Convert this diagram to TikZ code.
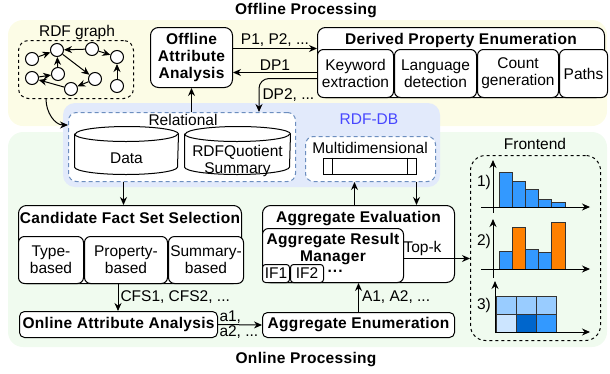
\documentclass[tikz,border=0pt]{standalone}
\usepackage{fontspec}
\setmainfont{Liberation Sans}[BoldFeatures={LetterSpace=2}]
\usetikzlibrary{arrows.meta, positioning}

\definecolor{offlinebg}{HTML}{FCFCE6}
\definecolor{onlinebg}{HTML}{F0FBEF}
\definecolor{dbbg}{HTML}{E2EAFB}
\definecolor{dbline}{HTML}{6C8EBF}
\definecolor{dbtext}{HTML}{4747FF}
\definecolor{barblue}{HTML}{3399FF}
\definecolor{barorange}{HTML}{FF8000}
\definecolor{celllight}{HTML}{99CCFF}
\definecolor{cellpale}{HTML}{CCE5FF}
\definecolor{celldark}{HTML}{0066CC}

\tikzset{
  box/.style={draw, fill=white, rounded corners=8pt, inner sep=0pt, align=center},
  subbox/.style={draw, fill=white, rounded corners=6pt, inner sep=0pt, align=center},
  title/.style={font=\bfseries, inner sep=0pt},
  dashbox/.style={draw, dashed, rounded corners=10pt},
  dbbox/.style={draw=dbline, fill=white, dash pattern=on 4pt off 3pt, rounded corners=8pt},
  vert/.style={circle, draw, fill=white, minimum size=13pt, inner sep=0pt},
  store/.style={inner sep=0pt, minimum height=47pt},
  bar/.style={draw=black!80, line width=0.8pt},
}

% drum outline round a store node: #1 node name, #2 half width
\newcommand{\drum}[2]{%
  \draw[fill=white] ([yshift=-7.5pt]#1.north west) -- ([yshift=7.5pt]#1.south west)
    arc[start angle=180, end angle=360, x radius=#2, y radius=7.5pt]
    -- ([yshift=-7.5pt]#1.north east)
    arc[start angle=0, end angle=180, x radius=#2, y radius=7.5pt] -- cycle;
  \draw ([yshift=-7.5pt]#1.north west) arc[start angle=180, end angle=360, x radius=#2, y radius=7.5pt];
}

\begin{document}
\begin{tikzpicture}[x=1pt, y=-1pt, line width=1pt, >={Stealth[length=8pt,width=7pt]}]
   \fontsize{15.5}{17}\selectfont
   \useasboundingbox (0,0) rectangle (610,373);

   % backgrounds
   \fill[offlinebg, rounded corners=15pt] (8,20) rectangle (607,126);
   \fill[onlinebg, rounded corners=15pt] (8,132) rectangle (607,347);
   \fill[dbbg, rounded corners=12pt] (63,103) rectangle (440,187);

   \node[title] (offtitle) at (306,11) {Offline Processing};
   \node[title] (ontitle) at (306,360) {Online Processing};

   % RDF graph
   \node (graphlabel) at (77,32) {RDF graph};
   \node[dashbox, minimum width=115pt, minimum height=58pt, anchor=north west] (graph) at (18,40) {};
   \node[vert] (v1) at (32,59) {};
   \node[vert] (v2) at (57,50) {};
   \node[vert] (v3) at (92,49) {};
   \node[vert] (v4) at (117,57) {};
   \node[vert] (v5) at (32,78) {};
   \node[vert] (v6) at (58,74) {};
   \node[vert] (v7) at (95,79) {};
   \node[vert] (v8) at (71,89) {};
   \node[vert] (v9) at (117,86) {};
   \draw[->] (v1) -- (v2);
   \draw[->] (v3) -- (v2);
   \draw[->] (v3) -- (v4);
   \draw[->] (v2) -- (v7);
   \draw[->] (v6) -- (v2);
   \draw[->] (v5) -- (v6);
   \draw[->] (v8) -- (v5);
   \draw[->] (v7) -- (v8);
   \draw[->] (v9) -- (v4);

   % RDF-DB
   \node[text=dbtext] (dblabel) at (369,119) {RDF-DB};
   \node[dbbox, minimum width=227pt, minimum height=69pt, anchor=north west] (relational) at (68,112) {};
   \node (reltitle) at (183,120) {Relational};
   \node[store, minimum width=103pt] (data) at (126.5,150.5) {};
   \drum{data}{51.5pt}
   \node (datatext) at (126.5,158) {Data};
   \node[store, minimum width=105pt] (summary) at (237.5,150.5) {};
   \drum{summary}{52.5pt}
   \node[align=center, inner sep=0pt] (sumtext) at (237.5,161) {RDFQuotient\\Summary};
   \node[dbbox, minimum width=130pt, minimum height=45pt, anchor=north west] (multidim) at (305,136) {};
   \node (mdtitle) at (370,148) {Multidimensional};
   \node[draw, fill=white, minimum width=93pt, minimum height=16pt, inner sep=0pt] (cube) at (369.5,166) {};
   \draw ([xshift=10pt]cube.north west) -- ([xshift=10pt]cube.south west);
   \draw ([xshift=-9pt]cube.north east) -- ([xshift=-9pt]cube.south east);

   % offline part
   \node[box, minimum width=82pt, minimum height=60pt, anchor=north west, font=\bfseries] (offaa) at (150,27) {Offline\\Attribute\\Analysis};
   \node[box, minimum width=287pt, minimum height=70pt, anchor=north west] (dpe) at (317,27) {};
   \node[title, below=5.5pt of dpe.north] (dpetitle) {Derived Property Enumeration};
   \node[subbox, anchor=south west, minimum width=76pt, minimum height=48pt] (keyword) at (dpe.south west) {Keyword\\extraction};
   \node[subbox, right=0pt of keyword, minimum width=82pt, minimum height=48pt] (language) {Language\\detection};
   \node[subbox, right=0pt of language, minimum width=81pt, minimum height=48pt] (count) {Count\\generation};
   \node[subbox, right=0pt of count, minimum width=48pt, minimum height=48pt] (paths) {Paths};

   \draw[->] (graph.south west) ++(28pt,0) to[out=-90, in=180] ([yshift=-13pt]relational.north west);
   \draw[->] (offaa.south |- relational.north) -- (offaa.south);
   \draw[->] ([yshift=9pt]offaa.east) -- ([yshift=9pt]offaa.east -| dpe.west) node[midway, above, inner sep=2pt] {P1, P2, ...};
   \draw[->] ([yshift=-10pt]dpe.west) -- ([yshift=-10pt]dpe.west -| offaa.east) node[midway, above, inner sep=2pt] {DP1};
   \draw[->, rounded corners=10pt] ([yshift=-16pt]dpe.west) -| ([xshift=-37pt]relational.north east) node[pos=0.75, right, inner sep=3pt] {DP2, ...};

   % online part
   \node[box, minimum width=223pt, minimum height=78pt, anchor=north west] (cfs) at (18,205) {};
   \node[title, below=7pt of cfs.north] (cfstitle) {Candidate Fact Set Selection};
   \node[subbox, anchor=south west, minimum width=65pt, minimum height=47pt] (typeb) at (cfs.south west) {Type-\\based};
   \node[subbox, right=0pt of typeb, minimum width=83pt, minimum height=47pt] (propb) {Property-\\based};
   \node[subbox, right=0pt of propb, minimum width=75pt, minimum height=47pt] (sumb) {Summary-\\based};
   \node[box, rounded corners=5pt, minimum width=198pt, minimum height=26pt, anchor=north west, font=\bfseries] (onaa) at (19,311) {Online Attribute Analysis};

   \node[box, minimum width=192pt, minimum height=77pt, anchor=north west] (aggeval) at (262,205) {};
   \node[title, below=5.5pt of aggeval.north] (aggevaltitle) {Aggregate Evaluation};
   \node[subbox, anchor=south west, minimum width=141pt, minimum height=54pt] (arm) at (aggeval.south west) {};
   \node[title, align=center, below=4.5pt of arm.north] (armtitle) {Aggregate Result\\Manager};
   \node[subbox, rounded corners=3pt, anchor=south west, minimum width=27pt, minimum height=18pt] (if1) at (arm.south west) {IF1};
   \node[subbox, rounded corners=3pt, right=0pt of if1, minimum width=33pt, minimum height=18pt] (if2) {IF2};
   \node[right=3pt of if2, font=\bfseries, inner sep=0pt] (ifdots) {···};
   \node[box, rounded corners=5pt, minimum width=192pt, minimum height=25pt, anchor=north west, font=\bfseries] (aggenum) at (262,312) {Aggregate Enumeration};

   \draw[->] ([xshift=-3pt]data.south |- relational.south) -- ([xshift=-3pt]data.south |- cfs.north);
   \draw[->] ([xshift=-12pt]cfs.south) -- ([xshift=-12pt]cfs.south |- onaa.north) node[midway, right, inner sep=2pt] {CFS1, CFS2, ...};
   \draw[->] (onaa.east) -- (aggenum.west) node[pos=0, above right, inner sep=1pt] {a1,} node[pos=0, below right, inner sep=1pt] {a2, ...};
   \draw[->] (aggenum.north) -- (aggenum.north |- arm.south) node[midway, right, inner sep=3pt] {A1, A2, ...};
   \draw[->] ([xshift=-4pt]aggeval.north) -- ([xshift=-4pt]aggeval.north |- multidim.south);
   \draw[->] ([xshift=46pt]multidim.south) -- ([xshift=46pt]multidim.south |- aggeval.north);

   % frontend
   \node (frontlabel) at (535,144) {Frontend};
   \node[dashbox, rounded corners=15pt, minimum width=130pt, minimum height=185pt, anchor=north west] (frontend) at (470,155) {};
   \draw[->] ([yshift=-3pt]arm.east) -- ([yshift=-3pt]arm.east -| frontend.west) node[pos=0.28, above, inner sep=2pt] {Top-k};

   \node (chartone) at (484,182) {1)};
   \foreach \i/\h in {0/172, 1/181, 2/189, 3/199, 4/202}
      \filldraw[bar, fill=barblue] (499+13.2*\i,207) rectangle (512.2+13.2*\i,\h);
   \draw[->] (493,213) -- (493,160);
   \draw[->] (481,207) -- (590,207);

   \node (charttwo) at (484,241) {2)};
   \foreach \i/\h/\c in {0/251/barblue, 1/227/barorange, 2/249/barblue, 3/252/barblue, 4/222/barorange}
      \filldraw[bar, fill=\c] (499+13.2*\i,269) rectangle (512.2+13.2*\i,\h);
   \draw[->] (493,278) -- (493,219);
   \draw[->] (481,269) -- (590,269);

   \node (chartthree) at (484,305) {3)};
   \foreach \i/\c in {0/celllight, 1/celllight, 2/celllight}
      \filldraw[bar, fill=\c] (496+20*\i,296) rectangle (516+20*\i,314);
   \foreach \i/\c in {0/cellpale, 1/celldark, 2/barblue}
      \filldraw[bar, fill=\c] (496+20*\i,314) rectangle (516+20*\i,332);
   \draw[->] (495,333) -- (495,281);
   \draw[->] (495,332) -- (590,332);
\end{tikzpicture}
\end{document}
